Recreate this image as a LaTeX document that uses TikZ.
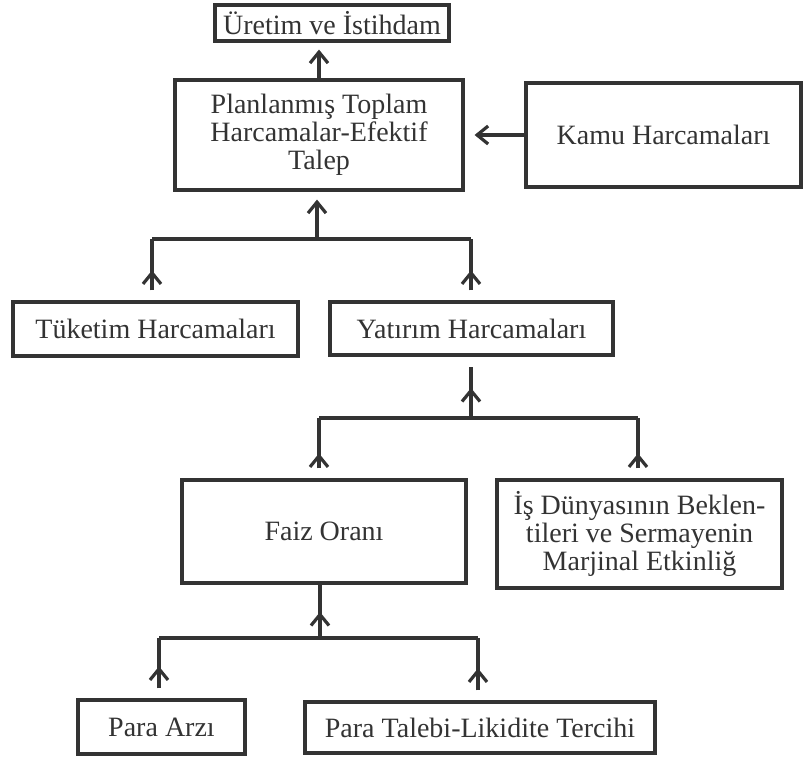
\documentclass[tikz,border=0pt]{standalone}
\usepackage{fontspec}
\setmainfont{Liberation Serif}
\usetikzlibrary{arrows.meta,decorations.markings}

\tikzset{
  kutu/.style={draw=black!80, line width=1.6pt, align=center, inner sep=2pt,
    text=black!80, font=\fontsize{14}{14}\selectfont},
  cizgi/.style={draw=black!80, line width=1.6pt},
  ok/.style={cizgi, -{Straight Barb[length=5.5pt,width=9pt]}},
  ortaok/.style={cizgi, decoration={markings,
    mark=at position #1 with {\arrow{Straight Barb[length=5.5pt,width=9pt]}}},
    postaction={decorate}}
}

\begin{document}
\begin{tikzpicture}[x=0.5pt,y=-0.5pt]
  \useasboundingbox (0,0) rectangle (803,760);

  \node[kutu, minimum width=117pt, minimum height=18pt] (uretim) at (332,23) {Üretim ve İstihdam};
  \node[kutu, minimum width=144pt, minimum height=55pt] (plan) at (319,135)
    {Planlanmış Toplam\\Harcamalar-Efektif\\Talep};
  \node[kutu, minimum width=137.5pt, minimum height=52pt] (kamu) at (663.5,135) {Kamu Harcamaları};

  \node[kutu, minimum width=142.5pt, minimum height=27pt] (tuketim) at (155.5,329) {Tüketim Harcamaları};
  \node[kutu, minimum width=141.5pt, minimum height=26.5pt] (yatirim) at (471.5,328.5) {Yatırım Harcamaları};

  \node[kutu, minimum width=142pt, minimum height=51.5pt] (faiz) at (324,531.5) {Faiz Oranı};
  \node[kutu, minimum width=142.5pt, minimum height=54pt] (isdunya) at (639.5,534)
    {İş Dünyasının Beklen-\\tileri ve Sermayenin\\Marjinal Etkinliğ};

  \node[kutu, minimum width=83.5pt, minimum height=27pt] (arz) at (161.5,727) {Para Arzı};
  \node[kutu, minimum width=175pt, minimum height=25.5pt] (talep) at (480,727.5) {Para Talebi-Likidite Tercihi};

  % ust kisim
  \draw[ok, shorten >=3.5pt] (plan.north) -- (plan.north |- uretim.south);
  \draw[ok, shorten >=5pt] (kamu.west) -- (plan.east);

  % harcamalar
  \coordinate (b1) at (317,239);
  \coordinate (b1l) at (152,239);
  \coordinate (b1r) at (471,239);
  \draw[cizgi] (b1l) -- (b1r);
  \draw[ok, shorten >=4pt] (b1) -- (b1 |- plan.south);
  \draw[ortaok=10pt] ([yshift=5pt]b1l |- tuketim.north) -- (b1l);
  \draw[ortaok=10pt] ([yshift=5pt]b1r |- yatirim.north) -- (b1r);

  % yatirim
  \coordinate (b2) at (471,418);
  \coordinate (b2l) at (319,418);
  \coordinate (b2r) at (638,418);
  \draw[cizgi] (b2l) -- (b2r);
  \draw[ortaok=15pt] (b2) -- ([yshift=-5pt]b2 |- yatirim.south);
  \draw[ortaok=7.5pt] ([yshift=5pt]b2l |- faiz.north) -- (b2l);
  \draw[ortaok=7.5pt] ([yshift=5pt]b2r |- isdunya.north) -- (b2r);

  % faiz
  \coordinate (b3) at (320,638);
  \coordinate (b3l) at (159,638);
  \coordinate (b3r) at (478,638);
  \draw[cizgi] (b3l) -- (b3r);
  \draw[ortaok=13pt] (b3) -- (b3 |- faiz.south);
  \draw[ortaok=11pt] ([yshift=5pt]b3l |- arz.north) -- (b3l);
  \draw[ortaok=11pt] ([yshift=5pt]b3r |- talep.north) -- (b3r);
\end{tikzpicture}
\end{document}
